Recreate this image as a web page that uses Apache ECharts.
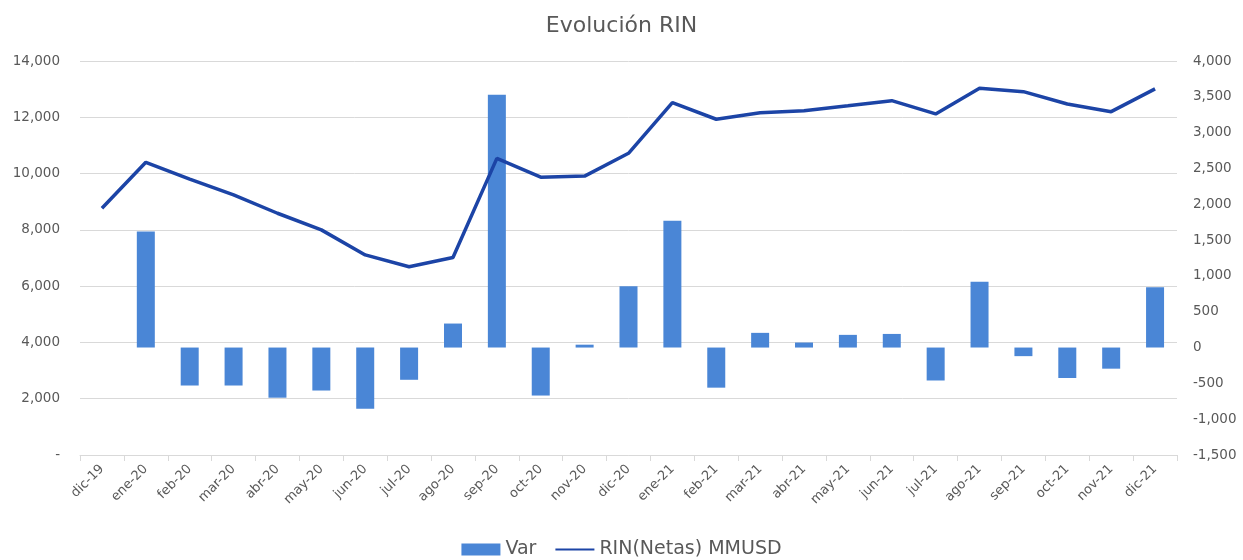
<!DOCTYPE html>
<html><head><meta charset="utf-8">
<script src="https://cdn.jsdelivr.net/npm/echarts@6/dist/echarts.min.js"></script>
<style>html,body{margin:0;padding:0;background:#fff}#c{width:1243px;height:560px}</style>
</head><body><div id="c"></div>
<script>
const categories = ['dic-19','ene-20','feb-20','mar-20','abr-20','may-20','jun-20','jul-20','ago-20','sep-20','oct-20','nov-20','dic-20','ene-21','feb-21','mar-21','abr-21','may-21','jun-21','jul-21','ago-21','sep-21','oct-21','nov-21','dic-21'];
const varValues = [null,1620,-530,-530,-700,-600,-855,-450,335,3530,-670,40,855,1770,-560,205,70,177,190,-460,920,-120,-425,-295,840];
const rinValues = [8770,10400,9800,9240,8590,8000,7110,6690,7020,10540,9870,9910,10720,12520,11930,12160,12235,12410,12590,12120,13030,12910,12470,12200,13010];
const leftTicks = {min:0,max:14000,interval:2000};
const rightTicks = {min:-1500,max:4000,interval:500};

const txt = '#595959';
const font = '"DejaVu Sans", Verdana, sans-serif';
const chart = echarts.init(document.getElementById('c'), null, {renderer:'canvas'});
chart.setOption({
  animation:false,
  title:{text:'Evolución RIN',left:'center',top:10,textStyle:{color:txt,fontSize:22,fontWeight:'normal',fontFamily:font}},
  grid:{left:80,right:66,top:61,bottom:105},
  legend:{top:535,left:'center',itemGap:18,itemWidth:39,itemHeight:12,
    textStyle:{color:txt,fontSize:19,fontFamily:font},
    data:[{name:'Var',icon:'rect'},{name:'RIN(Netas) MMUSD',itemStyle:{opacity:0}}]},
  xAxis:{type:'category',data:categories,boundaryGap:true,
    axisLine:{lineStyle:{color:'#d9d9d9',width:1}},
    axisTick:{show:true,length:6,lineStyle:{color:'#d9d9d9'}},
    axisLabel:{rotate:45,color:txt,fontSize:13,fontFamily:font,interval:0,margin:12}},
  yAxis:[
    {type:'value',min:leftTicks.min,max:leftTicks.max,interval:leftTicks.interval,position:'left',
     axisLine:{show:false},axisTick:{show:false},
     splitLine:{lineStyle:{color:'#d9d9d9',width:1}},
     axisLabel:{color:txt,fontSize:13.5,fontFamily:font,margin:20,
       formatter:v=> v===0?'-':v.toLocaleString('en-US')}},
    {type:'value',min:rightTicks.min,max:rightTicks.max,interval:rightTicks.interval,position:'right',
     axisLine:{show:false},axisTick:{show:false},splitLine:{show:false},
     axisLabel:{color:txt,fontSize:13.5,fontFamily:font,margin:16,
       formatter:v=> v.toLocaleString('en-US')}}
  ],
  series:[
    {name:'Var',type:'bar',yAxisIndex:1,data:varValues,barWidth:18,itemStyle:{color:'#4a86d6'}},
    {name:'RIN(Netas) MMUSD',type:'line',yAxisIndex:0,data:rinValues,symbol:'none',
     lineStyle:{color:'#1c44a6',width:3.5},itemStyle:{color:'#1c44a6'}}
  ]
});
</script></body></html>
